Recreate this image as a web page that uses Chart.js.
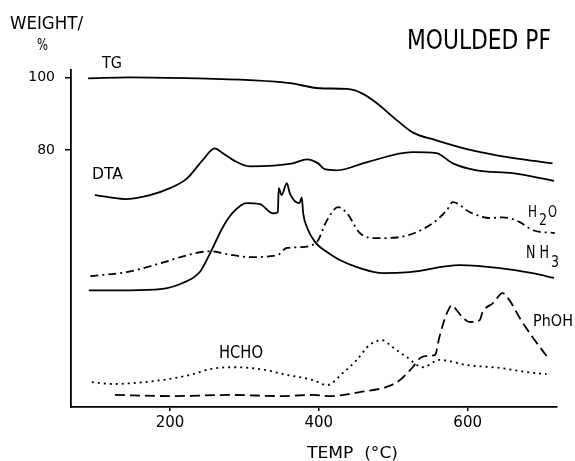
<!DOCTYPE html>
<html><head><meta charset="utf-8">
<script src="https://cdn.jsdelivr.net/npm/chart.js@4.4.0/dist/chart.umd.min.js"></script>
<style>html,body{margin:0;padding:0;background:#fff}#wrap{width:575px;height:461px;position:relative}</style>
</head><body><div id="wrap"><canvas id="c" width="575" height="461"></canvas></div>
<script>
// ---- data (temperature in °C, ordinate in chart units) ----
const xTickValues = [200, 400, 600];
const yTickValues = [80, 100];

const tgTemp  = [90, 146, 236, 307, 361, 401, 438, 458, 478, 505, 526, 558, 599, 639, 674, 714];
const tgValue = [99.7, 100, 99.7, 99.2, 98.4, 97.0, 96.8, 95.6, 92.9, 88.2, 84.9, 82.7, 80.3, 78.6, 77.5, 76.4];

const dtaTemp  = [99, 119, 140, 173, 200, 223, 244, 260, 271, 285, 307, 365, 384, 399, 408, 424, 464, 526, 558, 580, 612, 660, 716];
const dtaValue = [67.7, 67.1, 66.6, 67.7, 69.6, 72.3, 77.3, 80.5, 79.2, 77.3, 75.6, 76.4, 77.5, 76.4, 74.8, 74.5, 76.7, 79.5, 79.2, 76.4, 74.5, 73.7, 71.6];

const nh3Temp  = [91, 146, 187, 217, 240, 254, 271, 285, 303, 321, 338, 345, 346, 350, 357, 361, 374, 377, 379, 384, 395, 411, 428, 455, 486, 522, 589, 643, 687, 716];
const nh3Value = [41.6, 41.6, 41.9, 43.6, 46.6, 51.8, 58.9, 63.0, 65.5, 65.2, 62.7, 63.0, 69.6, 67.7, 71.0, 68.2, 65.5, 67.1, 62.7, 58.9, 54.8, 52.1, 49.9, 47.7, 46.3, 46.6, 48.5, 47.7, 46.3, 45.0];

const h2oTemp  = [93, 142, 187, 223, 254, 277, 307, 344, 357, 374, 397, 411, 426, 438, 455, 478, 509, 553, 572, 580, 603, 630, 647, 670, 687, 717];
const h2oValue = [45.5, 46.6, 49.0, 51.2, 52.3, 51.5, 50.7, 51.2, 53.2, 53.4, 54.8, 60.8, 64.4, 62.7, 57.3, 55.9, 56.2, 60.0, 63.6, 65.8, 63.0, 61.4, 61.6, 60.3, 58.1, 57.3];

const hchoTemp  = [95, 123, 164, 200, 231, 254, 285, 321, 357, 392, 411, 432, 451, 468, 485, 499, 518, 540, 562, 599, 643, 679, 706];
const hchoValue = [16.4, 15.9, 16.4, 17.3, 18.6, 20.0, 20.5, 20.0, 18.4, 17.0, 15.6, 18.9, 22.5, 26.6, 27.9, 26.0, 23.3, 20.5, 22.5, 21.1, 20.3, 19.2, 18.6];

const phohTemp  = [126, 200, 281, 348, 392, 415, 455, 491, 509, 526, 536, 545, 556, 562, 572, 579, 585, 593, 603, 616, 620, 634, 647, 656, 670, 687, 710];
const phohValue = [12.9, 12.6, 12.9, 12.6, 12.9, 12.6, 13.7, 15.1, 17.0, 20.5, 23.0, 23.6, 23.8, 28.8, 35.3, 37.5, 36.2, 34.2, 32.9, 33.4, 35.6, 38.1, 40.8, 38.9, 34.0, 28.8, 22.5];

// ---- build ----
const pts = (xs, ys) => xs.map((x, i) => ({x: x, y: ys[i]}));
const FONT = 'DejaVu Sans';

function ds(label, xs, ys, dash) {
  return {
    label: label, data: pts(xs, ys), borderColor: '#000', borderWidth: 1.8,
    borderDash: dash, pointRadius: 0, fill: false, cubicInterpolationMode: 'monotone',
    borderCapStyle: 'butt'
  };
}

function txt(ctx, s, left, cy, cap, width) {
  const size = cap / 0.73;
  ctx.save();
  ctx.font = size + 'px "' + FONT + '"';
  ctx.textBaseline = 'alphabetic';
  ctx.textAlign = 'left';
  const w = ctx.measureText(s).width;
  const sx = width ? width / w : 1;
  ctx.translate(left, cy + cap / 2);
  ctx.scale(sx, 1);
  ctx.fillStyle = '#000';
  ctx.fillText(s, 0, 0);
  ctx.restore();
}

const labelsPlugin = {
  id: 'labels',
  afterDraw(chart) {
    const ctx = chart.ctx;
    txt(ctx, 'WEIGHT/', 10, 22, 13, 73);
    txt(ctx, '%', 37, 44, 11, 11);
    txt(ctx, 'TG', 102, 62, 12, 20);
    txt(ctx, 'MOULDED PF', 407, 39, 19, 144);
    txt(ctx, 'DTA', 92, 173, 12, 31);
    txt(ctx, 'H', 528, 211, 12, 9);
    txt(ctx, '2', 539, 219, 11, 8);
    txt(ctx, 'O', 548, 211, 12, 9);
    txt(ctx, 'N H', 526, 251, 13, 23);
    txt(ctx, '3', 551, 261, 12, 8);
    txt(ctx, 'HCHO', 219, 351, 13, 44);
    txt(ctx, 'PhOH', 533, 320, 12, 40);
    txt(ctx, 'TEMP  (°C)', 307, 452, 12, 91);
  }
};

new Chart(document.getElementById('c'), {
  type: 'line',
  data: {
    datasets: [
      ds('TG', tgTemp, tgValue, []),
      ds('DTA', dtaTemp, dtaValue, []),
      ds('NH3', nh3Temp, nh3Value, []),
      ds('H2O', h2oTemp, h2oValue, [8, 4, 2, 4]),
      ds('HCHO', hchoTemp, hchoValue, [2, 4]),
      ds('PhOH', phohTemp, phohValue, [10, 5])
    ]
  },
  options: {
    responsive: false, animation: false, devicePixelRatio: 1,
    layout: {padding: {top: 70, right: 18, left: 0, bottom: 0}},
    plugins: {legend: {display: false}, tooltip: {enabled: false}, title: {display: false}},
    scales: {
      x: {
        type: 'linear', position: 'bottom', min: 67, max: 720,
        border: {display: true, color: '#000', width: 1.8},
        grid: {drawOnChartArea: false, drawTicks: true, tickLength: 4, color: '#000', lineWidth: 1.5},
        ticks: {color: '#000', font: {family: FONT, size: 15}, padding: 3, autoSkip: false, maxRotation: 0},
        afterBuildTicks: s => { s.ticks = xTickValues.map(v => ({value: v})); },
        afterFit: s => { s.height = 54; }
      },
      y: {
        type: 'linear', position: 'left', min: 9.6, max: 102,
        border: {display: true, color: '#000', width: 1.8},
        grid: {drawOnChartArea: false, drawTicks: true, tickLength: 6, color: '#000', lineWidth: 1.5},
        ticks: {color: '#000', font: {family: FONT, size: 14}, padding: 10, autoSkip: false},
        afterBuildTicks: s => { s.ticks = yTickValues.map(v => ({value: v})); },
        afterFit: s => { s.width = 71; }
      }
    }
  },
  plugins: [labelsPlugin]
});
</script>
</body></html>
